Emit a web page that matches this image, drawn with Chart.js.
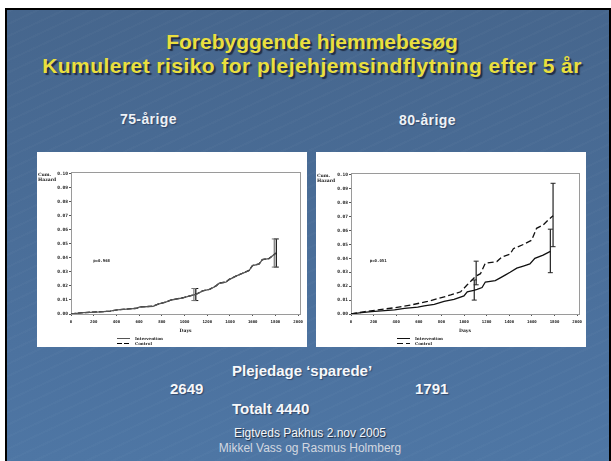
<!DOCTYPE html>
<html><head><meta charset="utf-8">
<script src="https://cdn.jsdelivr.net/npm/chart.js@4.4.0/dist/chart.umd.min.js"></script>
<style>
html,body{margin:0;padding:0;background:#fff;width:611px;height:461px;overflow:hidden;position:relative;}
#slide{position:absolute;left:5px;top:8px;width:602px;height:451px;border:2px solid #000;border-bottom:0;
  background:repeating-linear-gradient(-25deg,rgba(255,255,255,0.018) 0 2px,rgba(0,0,0,0) 2px 11px),
             linear-gradient(180deg,#46668d 0%,#496c96 40%,#4c729f 75%,#4e76a4 100%);}
.t{position:absolute;white-space:nowrap;font-family:"Liberation Sans",Arial,sans-serif;font-weight:bold;}
.title{left:12px;width:600px;text-align:center;font-size:21px;line-height:21px;color:#eadf3e;text-shadow:2px 2px 1px #1f2d45;}
.sub{font-size:14px;line-height:14px;letter-spacing:0.4px;color:#eef2f7;text-shadow:1px 1px 1px #33486a;}
.big{font-size:15px;line-height:15px;color:#f6f8fb;text-shadow:1px 1px 1px #33486a;}
.foot{left:10px;width:600px;text-align:center;font-weight:normal;font-size:12px;line-height:12px;}
.panel{position:absolute;top:152px;width:270px;height:195px;background:#fff;}
</style></head>
<body>
<div id="slide"></div>
<div class="t title" style="top:31px">Forebyggende hjemmebesøg</div>
<div class="t title" style="top:55px;letter-spacing:0.45px">Kumuleret risiko for plejehjemsindflytning efter 5 år</div>
<div class="t sub" style="left:120px;top:112px">75-årige</div>
<div class="t sub" style="left:399px;top:113px">80-årige</div>
<div class="panel" style="left:37px"><canvas id="c75" width="270" height="195"></canvas></div>
<div class="panel" style="left:316px"><canvas id="c80" width="270" height="195"></canvas></div>
<div class="t big" style="left:232px;top:363px">Plejedage ‘sparede’</div>
<div class="t big" style="left:170px;top:381px">2649</div>
<div class="t big" style="left:415px;top:381px">1791</div>
<div class="t big" style="left:232px;top:401px">Totalt 4440</div>
<div class="t foot" style="top:427px;color:#f4f6f9;text-shadow:1px 1px 1px #1e2a3c">Eigtveds Pakhus 2.nov 2005</div>
<div class="t foot" style="top:442px;color:#d3d8e0">Mikkel Vass og Rasmus Holmberg</div>
<script>
// ---- data ----
const xTicks = [0,200,400,600,800,1000,1200,1400,1600,1800,2000];
const yTicks = [0,0.01,0.02,0.03,0.04,0.05,0.06,0.07,0.08,0.09,0.10];
const seriesNames = ['Intervention','Control'];

const days75Int = [0,111,227,344,408,577,606,723,767,840,883,985,1073,1102,1160,1219,1277,1306,1364,1393,1452,1510,1568,1598,1656,1685,1743,1802];
const haz75Int  = [0,0.001,0.0014,0.002,0.003,0.004,0.005,0.0055,0.007,0.0086,0.010,0.0115,0.0134,0.014,0.0165,0.0175,0.020,0.022,0.0227,0.0246,0.027,0.029,0.031,0.0345,0.0356,0.0388,0.0395,0.0433];
const days75Ctl = [0,111,227,344,408,577,606,723,767,840,883,985,1073,1102,1160,1219,1277,1306,1364,1393,1452,1510,1568,1598,1656,1685,1743,1806];
const haz75Ctl  = [0,0.001,0.0015,0.002,0.003,0.0041,0.005,0.0056,0.007,0.0087,0.0101,0.0116,0.0135,0.0141,0.0166,0.0176,0.0201,0.0221,0.0228,0.0247,0.0271,0.0291,0.0311,0.0346,0.0357,0.0389,0.0396,0.0435];
const ci75Days = [1082,1099,1790,1808];
const ci75Low  = [0.0096,0.0096,0.0335,0.0335];
const ci75High = [0.0182,0.0182,0.0536,0.0536];

const days80Int = [0,93,181,385,473,590,648,736,823,911,999,1028,1086,1115,1159,1188,1276,1320,1363,1407,1466,1524,1582,1626,1699,1763];
const haz80Int  = [0,0.001,0.0017,0.003,0.004,0.005,0.0058,0.007,0.009,0.0105,0.013,0.016,0.017,0.0177,0.019,0.023,0.024,0.026,0.028,0.030,0.033,0.0345,0.036,0.040,0.0424,0.045];
const days80Ctl = [0,123,239,385,531,677,765,882,970,1028,1101,1145,1188,1290,1334,1407,1436,1524,1597,1641,1699,1743,1787];
const haz80Ctl  = [0,0.0017,0.003,0.0045,0.0065,0.009,0.011,0.0137,0.016,0.021,0.027,0.029,0.0365,0.0377,0.041,0.043,0.047,0.050,0.053,0.0616,0.064,0.0676,0.0707];
const ci80Days = [1090,1107,1763,1787];
const ci80Low  = [0.010,0.021,0.0297,0.0484];
const ci80High = [0.0245,0.038,0.061,0.094];

const pText75 = 'p=0.968';
const pText80 = 'p=0.051';

// ---- helpers ----
function pts(xs, ys){ return xs.map((x,i)=>({x:x,y:ys[i]})); }
function ciSets(ds, lo, hi, colors){
  return ds.map((d,i)=>({
    data:[{x:d,y:lo[i]},{x:d,y:hi[i]}],
    borderColor:colors[i%2], pointBorderColor:colors[i%2], borderWidth:1.2,
    pointStyle:'line', pointRadius:2.5, pointBorderWidth:1, fill:false, isCI:true
  }));
}
const framePlugin = {
  id:'frame',
  beforeDatasetsDraw(chart){
    const a = chart.chartArea, c = chart.ctx;
    c.save(); c.strokeStyle='#9a9a9a'; c.lineWidth=1;
    c.strokeRect(Math.round(a.left)+0.5, Math.round(a.top)+0.5, Math.round(a.right-a.left), Math.round(a.bottom-a.top));
    c.restore();
  }
};
const notePlugin = {
  id:'notes',
  afterDraw(chart, args, o){
    const c = chart.ctx, xs = chart.scales.x, ys = chart.scales.y;
    c.save();
    c.fillStyle='#222';
    c.font = 'bold 4.5px "DejaVu Serif", serif';
    c.textBaseline='middle'; c.textAlign='left';
    c.fillText('Cum.', o.yTitleX, o.yTitleY);
    c.fillText('Hazard', o.yTitleX, o.yTitleY+5);
    c.font = 'bold 4px "DejaVu Sans Mono", monospace';
    c.fillText(o.pText, xs.getPixelForValue(o.pX), ys.getPixelForValue(o.pY));
    const ds = chart.data.datasets.filter(d=>!d.isCI);
    ds.forEach((d,i)=>{
      const y = o.legY + i*5 + 0.5;
      c.strokeStyle = d.borderColor; c.lineWidth = 1;
      c.setLineDash(d.borderDash || []);
      c.beginPath(); c.moveTo(o.legX, y); c.lineTo(o.legX+13, y); c.stroke();
      c.setLineDash([]);
      c.font = 'bold 4px "DejaVu Serif", serif';
      c.fillText(d.label, o.legX+18, y);
    });
    c.restore();
  }
};
function makeChart(id, lines, cis, cfg){
  return new Chart(document.getElementById(id), {
    type:'line',
    data:{datasets: lines.concat(cis)},
    plugins:[framePlugin, notePlugin],
    options:{
      responsive:false, animation:false, devicePixelRatio:1,
      layout:{padding:{top:cfg.top, left:0, right:cfg.right, bottom:13}},
      elements:{line:{tension:0}},
      plugins:{legend:{display:false}, tooltip:{enabled:false},
        notes:{yTitleX:1, yTitleY:cfg.top+3, pText:cfg.pText, pX:cfg.pX, pY:0.038, legX:cfg.legX, legY:186}},
      scales:{
        x:{type:'linear', min:0, max:cfg.xmax,
          afterBuildTicks:s=>{s.ticks = xTicks.map(v=>({value:v}));},
          afterFit:s=>{s.height=20;},
          ticks:{autoSkip:false, maxRotation:0, padding:4, color:'#222',
            font:{family:'DejaVu Sans Mono', size:4, weight:'bold'}, callback:v=>String(v)},
          grid:{drawOnChartArea:false, drawTicks:true, tickLength:2, color:'#555'},
          border:{display:true, color:'#888'},
          title:{display:true, text:'Days', color:'#222', padding:{top:0,bottom:0},
            font:{family:'DejaVu Serif', size:4.5, weight:'bold'}}
        },
        y:{type:'linear', min:0, max:0.1014,
          afterBuildTicks:s=>{s.ticks = yTicks.map(v=>({value:v}));},
          afterFit:s=>{s.width=cfg.left;},
          ticks:{autoSkip:false, padding:1, color:'#222',
            font:{family:'DejaVu Sans Mono', size:4.5, weight:'bold'}, callback:v=>v.toFixed(2)},
          grid:{drawOnChartArea:false, drawTicks:true, tickLength:2, color:'#555'},
          border:{display:true, color:'#888'}
        }
      }
    }
  });
}

makeChart('c75', [
  {label:seriesNames[0], data:pts(days75Int,haz75Int), borderColor:'#555', borderWidth:1.3, pointRadius:0, fill:false},
  {label:seriesNames[1], data:pts(days75Ctl,haz75Ctl), borderColor:'#000', borderDash:[5,2], borderWidth:1.3, pointRadius:0, fill:false}
], ciSets(ci75Days, ci75Low, ci75High, ['#777','#111']),
{top:20, right:6, left:34, xmax:2018, pText:pText75, pX:195, legX:80});

makeChart('c80', [
  {label:seriesNames[0], data:pts(days80Int,haz80Int), borderColor:'#111', borderWidth:1.3, pointRadius:0, fill:false},
  {label:seriesNames[1], data:pts(days80Ctl,haz80Ctl), borderColor:'#111', borderDash:[6,3], borderWidth:1.3, pointRadius:0, fill:false}
], ciSets(ci80Days, ci80Low, ci80High, ['#222','#222']),
{top:21, right:4, left:35, xmax:2016, pText:pText80, pX:166, legX:81});
</script>
</body></html>
